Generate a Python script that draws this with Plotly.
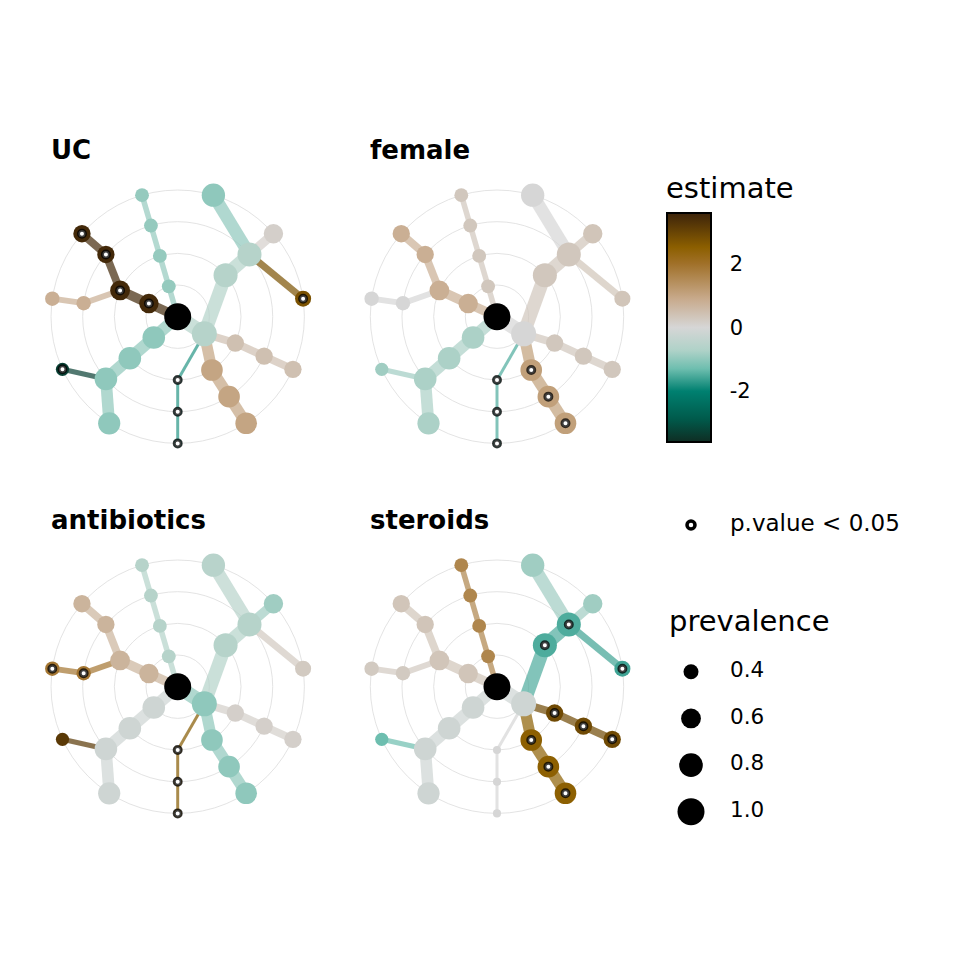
import numpy as np
import plotly.graph_objects as go
from plotly.colors import sample_colorscale

# ---- data -------------------------------------------------------------
panels = ["UC", "female", "antibiotics", "steroids"]

# taxonomy tree, nodes listed depth-first (children after their parent)
node = ["root", "A", "T2", "T3", "T4", "D2", "D3", "D4", "DR2", "DR3", "DR4",
        "UR2", "UR3", "UR4c", "UR4b", "UR4a", "UL1", "UL2", "UL3", "UL4",
        "L1", "L2", "L3a", "L4a", "L3b", "L4b", "DL1", "DL2", "DL3", "DL4b", "DL4a"]
parent = [-1, 0, 1, 2, 3, 1, 5, 6, 1, 8, 9,
          1, 11, 12, 12, 12, 0, 16, 17, 18,
          0, 20, 21, 22, 21, 24, 0, 26, 27, 28, 28]
prevalence = [1.0, 0.88, 0.21, 0.21, 0.21, 0.69, 0.69, 0.69, 0.49, 0.49, 0.49,
              0.82, 0.82, 0.44, 0.58, 0.78, 0.36, 0.36, 0.36, 0.36,
              0.58, 0.60, 0.49, 0.49, 0.38, 0.38, 0.74, 0.74, 0.74, 0.34, 0.72]

nan = float("nan")
est_uc = [nan, -0.6, -1.75, -1.75, -1.75, 1.0, 1.0, 1.0, 0.45, 0.45, 0.45,
          -0.6, -0.6, 2.75, 0.15, -1.0, -0.95, -0.95, -0.95, -0.95,
          3.5, 3.5, 3.5, 3.5, 0.8, 0.8, -1.0, -1.0, -1.0, -3.3, -1.0]
est_female = [nan, 0.0, -1.5, -1.5, -1.5, 1.1, 1.1, 1.1, 0.3, 0.3, 0.3,
              0.3, 0.3, 0.35, 0.35, 0.0, 0.3, 0.3, 0.3, 0.3,
              0.8, 0.8, 0.8, 0.8, 0.0, 0.0, -0.75, -0.75, -0.75, -0.85, -0.75]
est_antibiotics = [nan, -1.0, 2.6, 2.6, 2.6, -1.0, -1.0, -1.0, 0.15, 0.15, 0.15,
                   -0.6, -0.6, 0.25, -0.85, -0.55, -0.6, -0.6, -0.6, -0.6,
                   0.7, 0.7, 0.7, 0.7, 1.9, 1.9, -0.15, -0.15, -0.15, 3.2, -0.15]
est_steroids = [nan, -0.15, 0.0, 0.0, 0.0, 2.5, 2.5, 2.5, 2.9, 2.9, 2.9,
                -1.5, -1.5, -1.6, -0.85, -0.85, 1.6, 1.6, 1.6, 1.6,
                0.35, 0.35, 0.35, 0.35, 0.25, 0.25, -0.15, -0.15, -0.15, -1.3, -0.15]

sig_uc = ["T2", "T3", "T4", "UR4c", "L1", "L2", "L3a", "L4a", "DL4b"]
sig_female = ["T2", "T3", "T4", "D2", "D3", "D4"]
sig_antibiotics = ["T2", "T3", "T4", "L3b", "L4b"]
sig_steroids = ["D2", "D3", "D4", "DR2", "DR3", "DR4", "UR2", "UR3", "UR4c"]

estimates = [est_uc, est_female, est_antibiotics, est_steroids]
significant = [sig_uc, sig_female, sig_antibiotics, sig_steroids]

prev_breaks = [0.4, 0.6, 0.8, 1.0]
est_ticks = [-2, 0, 2]

# ---- scales -----------------------------------------------------------
cmin, cmax = -3.6, 3.6
cs = [[0.00, "rgb(15,45,35)"], [0.10, "rgb(0,90,75)"], [0.222, "rgb(0,128,112)"],
      [0.32, "rgb(110,190,175)"], [0.40, "rgb(175,210,200)"], [0.50, "rgb(214,214,214)"],
      [0.625, "rgb(200,170,140)"], [0.78, "rgb(160,112,40)"], [0.85, "rgb(140,95,0)"],
      [1.00, "rgb(60,35,10)"]]


def size_of(p):
    return np.sqrt(np.maximum(840 * np.asarray(p, dtype=float) - 111, 4))


def width_of(p):
    return max(17 * p - 0.6, 1.0)


def colour_of(v):
    return sample_colorscale(cs, [(v - cmin) / (cmax - cmin)])[0]


# ---- tree layout (circular, leaves evenly spread) ---------------------
n = len(node)
children = [[] for _ in range(n)]
for i, p in enumerate(parent):
    if p >= 0:
        children[p].append(i)
depth = np.zeros(n)
for i in range(1, n):
    depth[i] = depth[parent[i]] + 1
leaves = [i for i in range(n) if not children[i]]
angle = np.zeros(n)
for k, i in enumerate(leaves):
    angle[i] = -np.pi / 2 + 2 * np.pi * k / len(leaves)
for i in reversed(range(n)):
    if children[i]:
        angle[i] = np.mean([angle[c] for c in children[i]])
nx = depth * np.cos(angle)
ny = depth * np.sin(angle)

# ---- figure -----------------------------------------------------------
W = H = 960
centres = [(177.7, 316.7), (497.0, 316.7), (177.7, 686.7), (497.0, 686.7)]
unit = 31.67   # px per ring
half = 150.0

fig = go.Figure()
shapes, annotations = [], []

for k, name in enumerate(panels):
    ax = "" if k == 0 else str(k + 1)
    xa, ya = "x" + ax, "y" + ax
    cx, cy = centres[k]
    lim = half / unit
    fig.update_layout({
        "xaxis" + ax: dict(domain=[(cx - half) / W, (cx + half) / W], range=[-lim, lim],
                           visible=False, fixedrange=True),
        "yaxis" + ax: dict(domain=[1 - (cy + half) / H, 1 - (cy - half) / H], range=[-lim, lim],
                           visible=False, fixedrange=True),
    })
    for r in range(1, int(depth.max()) + 1):
        shapes.append(dict(type="circle", xref=xa, yref=ya, x0=-r, y0=-r, x1=r, y1=r,
                           line=dict(color="#dcdcdc", width=0.8), layer="below"))
    est = estimates[k]
    # edges coloured / sized by the child node
    for i in range(1, n):
        p = parent[i]
        fig.add_trace(go.Scatter(
            x=[nx[p], nx[i]], y=[ny[p], ny[i]], xaxis=xa, yaxis=ya, mode="lines",
            line=dict(color=colour_of(est[i]), width=width_of(prevalence[i])),
            opacity=0.7, hoverinfo="skip", showlegend=False))
    idx = list(range(1, n))
    fig.add_trace(go.Scatter(
        x=nx[idx], y=ny[idx], xaxis=xa, yaxis=ya, mode="markers",
        marker=dict(size=size_of([prevalence[i] for i in idx]), color=[est[i] for i in idx],
                    colorscale=cs, cmin=cmin, cmax=cmax, line=dict(width=0), opacity=1,
                    showscale=(k == 0),
                    colorbar=dict(
                        title=dict(text="estimate", side="top", font=dict(size=29)),
                        thickness=44, thicknessmode="pixels", len=268, lenmode="pixels",
                        x=667 / W, xanchor="left", y=1 - 308 / H, yanchor="middle",
                        xpad=0, ypad=0, outlinewidth=2, outlinecolor="black",
                        tickvals=est_ticks, ticktext=[str(t) for t in est_ticks],
                        ticks="outside", ticklen=14, tickcolor="rgba(0,0,0,0)",
                        tickfont=dict(size=21))),
        hoverinfo="skip", showlegend=False))
    # root
    fig.add_trace(go.Scatter(
        x=[nx[0]], y=[ny[0]], xaxis=xa, yaxis=ya, mode="markers",
        marker=dict(size=size_of([prevalence[0]]), color="black", line=dict(width=0), opacity=1),
        hoverinfo="skip", showlegend=False))
    sid = [node.index(s) for s in significant[k]]
    fig.add_trace(go.Scatter(
        x=nx[sid], y=ny[sid], xaxis=xa, yaxis=ya, mode="markers",
        marker=dict(size=7, color="white", opacity=1,
                    line=dict(color="rgba(0,0,0,0.75)", width=3)),
        hoverinfo="skip", showlegend=False))
    annotations.append(dict(text="<b>%s</b>" % name, xref="paper", yref="paper",
                            x=(cx - 128.7) / W, y=1 - (cy - 166.7) / H,
                            xanchor="left", yanchor="middle", showarrow=False,
                            font=dict(size=26, color="black")))

# ---- legends (drawn in a pixel-space overlay axis) -----------------------
fig.update_layout(
    xaxis5=dict(domain=[0, 1], range=[0, W], visible=False, fixedrange=True),
    yaxis5=dict(domain=[0, 1], range=[H, 0], visible=False, fixedrange=True),
)
key_x, text_x = 691, 730
fig.add_trace(go.Scatter(
    x=[key_x], y=[525], xaxis="x5", yaxis="y5", mode="markers",
    marker=dict(size=8, color="white", opacity=1, line=dict(color="black", width=3.5)),
    hoverinfo="skip", showlegend=False))
fig.add_trace(go.Scatter(
    x=[text_x], y=[525], xaxis="x5", yaxis="y5", mode="text", text=["p.value < 0.05"],
    textposition="middle right", textfont=dict(size=23, color="black"),
    hoverinfo="skip", showlegend=False))
key_y = [671.7 + 46.7 * j for j in range(len(prev_breaks))]
fig.add_trace(go.Scatter(
    x=[key_x] * len(prev_breaks), y=key_y, xaxis="x5", yaxis="y5", mode="markers",
    marker=dict(size=size_of(prev_breaks), color="black", opacity=1, line=dict(width=0)),
    hoverinfo="skip", showlegend=False))
fig.add_trace(go.Scatter(
    x=[text_x] * len(prev_breaks), y=key_y, xaxis="x5", yaxis="y5", mode="text",
    text=["%.1f" % b for b in prev_breaks], textposition="middle right",
    textfont=dict(size=21.5, color="black"), hoverinfo="skip", showlegend=False))
annotations.append(dict(text="prevalence", xref="paper", yref="paper", x=667 / W,
                        y=1 - 621 / H, xanchor="left", yanchor="middle", showarrow=False,
                        font=dict(size=29, color="black")))

fig.update_layout(
    width=W, height=H, margin=dict(l=0, r=0, t=0, b=0),
    paper_bgcolor="white", plot_bgcolor="rgba(0,0,0,0)",
    font=dict(family="DejaVu Sans", color="black"),
    shapes=shapes, annotations=annotations, showlegend=False,
)

fig.write_html("out.html", config={"displayModeBar": False},
               post_script="document.body.style.margin='0px';")
